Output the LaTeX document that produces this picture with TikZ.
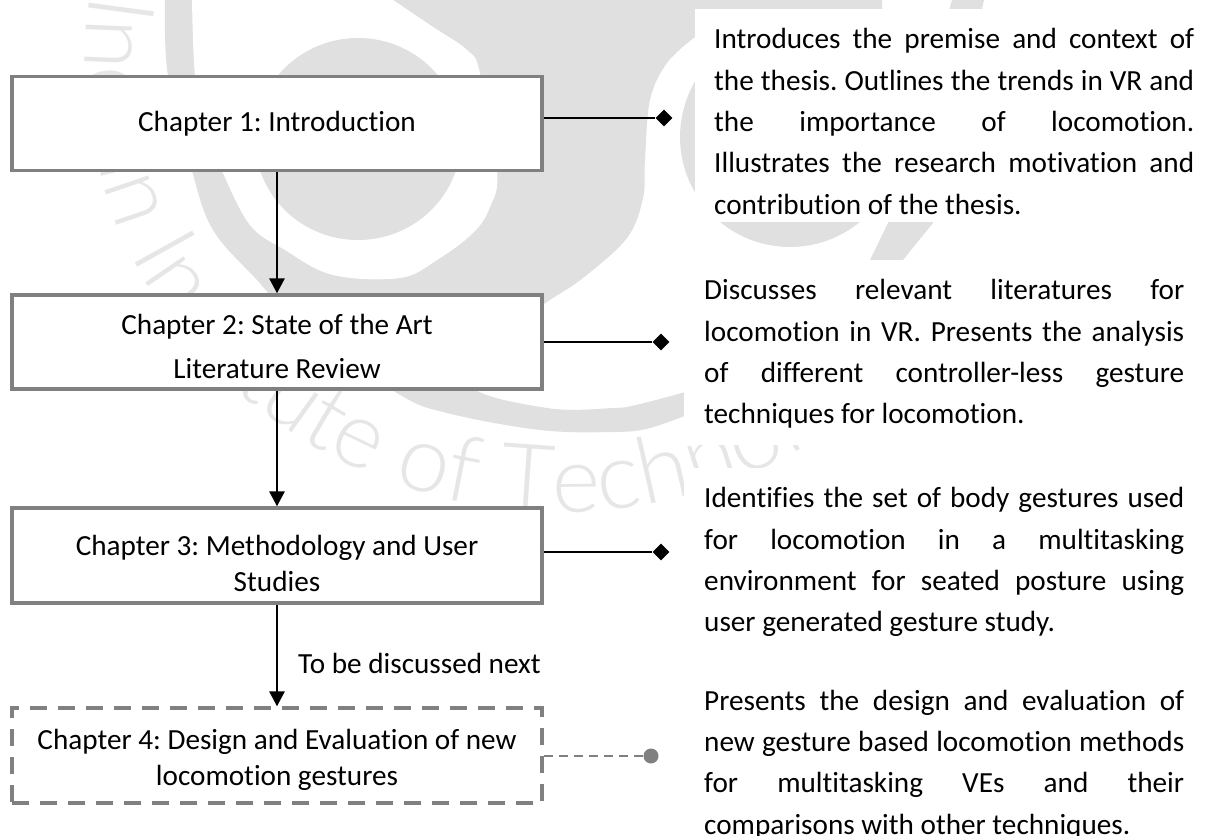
\documentclass[tikz,border=0pt]{standalone}
\usepackage{fontspec}
\setmainfont{Carlito}[Ligatures={NoCommon}]
\newfontfamily\wmfam{Lato Light}
\usetikzlibrary{arrows.meta,shapes.geometric,decorations.text}
\definecolor{wmgray}{HTML}{e0e0e0}
\definecolor{wmline}{HTML}{e6e6e6}
\definecolor{boxgray}{HTML}{808080}
\newcommand{\chapfont}{\fontsize{29.2}{34}\selectfont\frenchspacing}
\newcommand{\descfont}{\fontsize{29.2}{41.3}\selectfont\frenchspacing}
\newcommand{\wmfont}{\fontsize{93}{93}\wmfam}

\begin{document}
\begin{tikzpicture}[x=1pt,y=-1pt,
  chapbox/.style={draw=boxgray,fill=white,line width=3.3pt,minimum width=530pt,inner sep=0pt,align=center,font=\chapfont},
  descbox/.style={anchor=north west,inner sep=0pt,text width=480pt,align=justify,font=\descfont},
  tip/.style={diamond,fill=black,inner sep=0pt,minimum size=17pt},
  link/.style={line width=2.6pt},
  flow/.style={line width=2.8pt,-{Triangle[length=15pt,width=15pt]}}]
  \useasboundingbox (0,0) rectangle (1207,835);

  % watermark
  \fill[wmgray] (165,0) -- plot[smooth,tension=0.6] coordinates {(165,0) (168,76) (192,171) (213,230) (257,280) (300,325) (397,393) (447,413) (540,430) (613,432) (650,428) (700,410)}
    -- (700,388) -- plot[smooth,tension=0.6] coordinates {(700,388) (640,404) (613,408) (547,408) (470,385) (500,335) (547,302) (583,278) (627,238) (643,198) (645,160) (650,100) (667,63) (695,37)}
    -- (695,9) -- (882,9) -- (882,0) -- cycle;
  \fill[white] (192,0) -- plot[smooth,tension=0.6] coordinates {(192,0) (195,76) (205,130) (222,171) (250,225) (285,250) (333,275) (400,278) (437,260) (473,233) (490,207) (497,171) (480,73) (467,50) (433,27) (393,0)} -- cycle;
  \fill[wmgray] (358,139) ellipse (103 and 101);
  \fill[wmgray] (790,137) circle (110);
  \fill[wmgray] (952,0) -- (888,223) -- (870,260) -- (903,260) -- (933,223) -- (984,0) -- cycle;
  \path[decorate,decoration={text along path,text color=wmline,text align={left},text={|\wmfont|Indian Institute of Technology}}]
    plot[domain=188.5:-10,samples=80] ({560+475*cos(\x)},{60+452*sin(\x)});

  \fill[white] (695,9) rectangle (1207,222);
  \fill[white] (684,260) rectangle (1207,445);
  \fill[white] (684,468) rectangle (1207,835);

  % chapters
  \node (box1) at (277,123.5)[chapbox,minimum height=94.5pt]{Chapter 1: Introduction};
  \node (box2) at (277,342)[chapbox,minimum height=94pt]{\rule{0pt}{30pt}Chapter 2: State of the Art\\[10pt]Literature Review};
  \node (box3) at (277,555.5)[chapbox,minimum height=95pt]{\rule{0pt}{36pt}Chapter 3: Methodology and User\\[2pt]Studies};
  \node (box4) at (277,755.5)[chapbox,minimum height=95pt,dash pattern=on 17pt off 11pt]{\rule{0pt}{28pt}Chapter 4: Design and Evaluation of new\\[2pt]locomotion gestures};

  \draw[flow] (box1) -- (box2);
  \draw[flow] (box2) -- (box3);
  \draw[flow] (box3) -- (box4) node (next) at (419.5,663)[font=\chapfont]{To be discussed next};

  % side notes
  \node (tip1) at (664,118)[tip]{};
  \node (tip2) at (661,342)[tip]{};
  \node (tip3) at (661,552)[tip]{};
  \node (dot4) at (651,756)[circle,fill=boxgray,inner sep=0pt,minimum size=15pt]{};
  \draw[link] (box1.east |- tip1) -- (tip1);
  \draw[link] (box2.east |- tip2) -- (tip2);
  \draw[link] (box3.east |- tip3) -- (tip3);
  \draw[boxgray,line width=2pt,dash pattern=on 9pt off 6pt] (box4.east |- dot4) -- (dot4);

  \node (desc1) at (714,24.7)[descbox]{\rule{0pt}{24pt}Introduces the premise and context of\linebreak the thesis. Outlines the trends in VR and\linebreak the importance of locomotion.\linebreak Illustrates the research motivation and\linebreak contribution of the thesis.};
  \node (desc2) at (704,275.7)[descbox]{\rule{0pt}{24pt}Discusses relevant literatures for\linebreak locomotion in VR. Presents the analysis\linebreak of different controller-less gesture\linebreak techniques for locomotion.};
  \node (desc3) at (704,483.7)[descbox]{\rule{0pt}{24pt}Identifies the set of body gestures used\linebreak for locomotion in a multitasking\linebreak environment for seated posture using\linebreak user generated gesture study.};
  \node (desc4) at (704,686)[descbox]{\rule{0pt}{24pt}Presents the design and evaluation of\linebreak new gesture based locomotion methods\linebreak for multitasking VEs and their\linebreak comparisons with other techniques.};
\end{tikzpicture}
\end{document}
